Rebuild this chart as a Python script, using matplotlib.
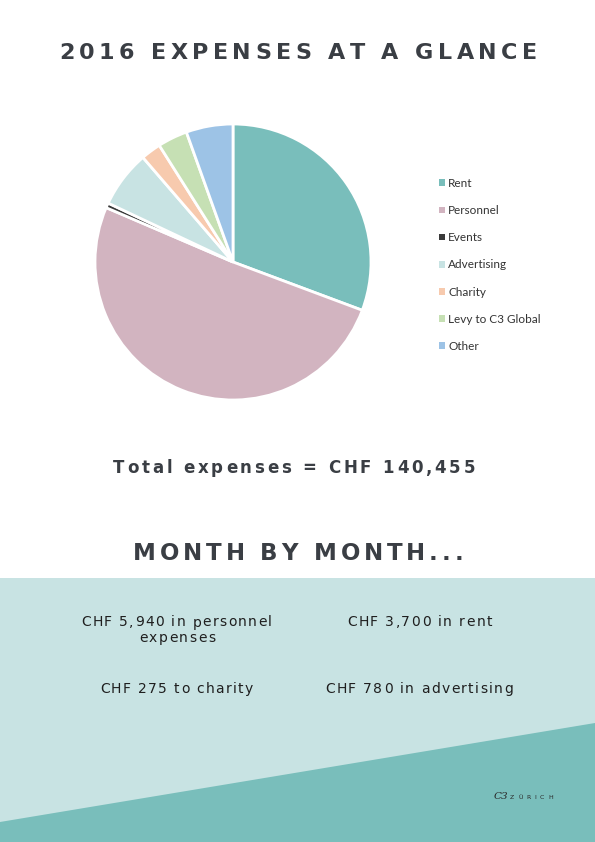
import matplotlib
matplotlib.use("Agg")
import matplotlib.pyplot as plt
from matplotlib.patches import Rectangle, Polygon, Patch

# ---- data ----
categories = ["Rent", "Personnel", "Events", "Advertising", "Charity", "Levy to C3 Global", "Other"]
values = [43100, 71280, 800, 9360, 3300, 4900, 7700]
colors = ["#79BEBB", "#D2B4C0", "#3A3A3A", "#C8E3E3", "#F7CAAE", "#C6E0B4", "#9DC3E6"]
total_text = "Total expenses = CHF 140,455"
monthly_lines = [
    ["CHF 5,940 in personnel", "expenses"],
    ["CHF 3,700 in rent"],
    ["CHF 275 to charity"],
    ["CHF 780 in advertising"],
]

W, H = 595, 842
fig = plt.figure(figsize=(W / 100, H / 100), dpi=100)
fig.patch.set_facecolor("white")
renderer = fig.canvas.get_renderer()

DARK = "#3A3E44"


def fx(x):
    return x / W


def fy(y):
    return 1 - y / H


def spaced_text(s, x0, x1, baseline, size, weight="bold", color=DARK, family="DejaVu Sans"):
    """Draw s with tracking so that it spans pixel range x0..x1."""
    chars = list(s)
    texts = []
    widths = []
    probe_a = fig.text(0, 0, "aa", fontsize=size, weight=weight, family=family)
    probe_b = fig.text(0, 0, "a a", fontsize=size, weight=weight, family=family)
    space_w = probe_b.get_window_extent(renderer).width - probe_a.get_window_extent(renderer).width
    probe_a.remove(); probe_b.remove()
    for c in chars:
        if c == " ":
            texts.append(None)
            widths.append(space_w)
        else:
            t = fig.text(0, fy(baseline), c, fontsize=size, weight=weight, color=color,
                         family=family, va="baseline", ha="left")
            texts.append(t)
            widths.append(t.get_window_extent(renderer).width)
    n = len(chars)
    track = (x1 - x0 - sum(widths)) / max(n - 1, 1)
    x = x0
    for t, w in zip(texts, widths):
        if t is not None:
            t.set_x(fx(x))
        x += w + track


# ---- background bands ----
fig.add_artist(Rectangle((0, 0), 1, fy(578), transform=fig.transFigure,
                         facecolor="#C8E3E3", edgecolor="none", zorder=0))
fig.add_artist(Polygon([(0, fy(822)), (1, fy(723)), (1, 0), (0, 0)], closed=True,
                       transform=fig.transFigure, facecolor="#79BEBB", edgecolor="none", zorder=0))

# ---- pie ----
cx, cy, r = 233, 262, 138
ax = fig.add_axes([fx(cx - r), fy(cy + r), 2 * r / W, 2 * r / H])
wedges, _ = ax.pie(values, colors=colors, startangle=90, counterclock=False,
                   wedgeprops=dict(edgecolor="white", linewidth=2))
ax.set_xlim(-1, 1)
ax.set_ylim(-1, 1)
ax.set_aspect("equal")
ax.axis("off")

handles = [Patch(facecolor=w.get_facecolor(), edgecolor="none") for w in wedges]
fig.legend(handles, categories, loc="upper left", bbox_to_anchor=(fx(433), fy(172)),
           frameon=False, prop=dict(family="Lato", size=8.5),
           handlelength=0.5, handleheight=0.5, handletextpad=0.3,
           labelspacing=1.37, borderpad=0, labelcolor="#333333")

# ---- texts ----
spaced_text("2016 EXPENSES AT A GLANCE", 59, 537, 59, 16.0)
spaced_text(total_text, 113, 475, 473, 12.0)
spaced_text("MONTH BY MONTH...", 133, 463, 560, 16.5)

MT = "#1F1F1F"
spaced_text(monthly_lines[0][0], 81, 272, 626.5, 10.0, weight="normal", color=MT)
spaced_text(monthly_lines[0][1], 139, 215, 642, 10.0, weight="normal", color=MT)
spaced_text(monthly_lines[1][0], 347, 492, 626.5, 10.0, weight="normal", color=MT)
spaced_text(monthly_lines[2][0], 100, 253, 693, 10.0, weight="normal", color=MT)
spaced_text(monthly_lines[3][0], 325, 513, 693, 10.0, weight="normal", color=MT)

# ---- logo ----
fig.text(fx(501), fy(799), "C3", fontsize=7.5, style="italic", family="DejaVu Serif",
         color="#2A2A2A", ha="center", va="baseline")
spaced_text("ZÜRICH", 510, 553, 799, 4.5, weight="normal", color="#2A2A2A")

fig.savefig("out.png", dpi=100, facecolor="white")
